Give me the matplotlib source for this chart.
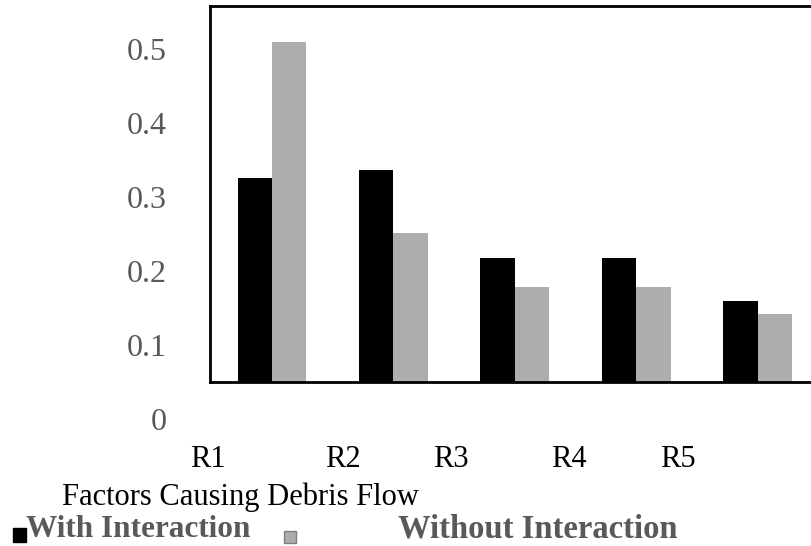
import numpy as np
import matplotlib.pyplot as plt
from matplotlib.patches import Rectangle

plt.rcParams['font.family'] = ['Liberation Serif', 'DejaVu Serif']

# data
factors = ['R1', 'R2', 'R3', 'R4', 'R5']
with_inter = [0.325, 0.337, 0.218, 0.218, 0.160]
without_inter = [0.510, 0.251, 0.179, 0.179, 0.142]
yticks = [0, 0.1, 0.2, 0.3, 0.4, 0.5]
baseline = 0.05

W, H = 811, 546
fig = plt.figure(figsize=(W / 100, H / 100), dpi=100)
ax = fig.add_axes([210 / W, 1 - 419 / H, (W - 210) / W, (419 - 6) / H])

x = np.arange(len(factors))
bw = 0.283
ax.bar(x - bw / 2, np.array(with_inter) - baseline, bw, bottom=baseline,
       color='black', label='With Interaction')
ax.bar(x + bw / 2, np.array(without_inter) - baseline, bw, bottom=baseline,
       color='#adadab', label='Without Interaction')

ax.set_xlim(-0.511, 4.44)
ax.set_ylim(0, 0.558)

for s in ['left', 'top', 'bottom']:
    ax.spines[s].set_linewidth(2.0)
ax.spines['right'].set_visible(False)
ax.spines['bottom'].set_position(('data', baseline))
ax.spines['left'].set_bounds(baseline, 0.558)

ax.set_xticks([])
ax.set_yticks(yticks)
ax.set_yticklabels(['0' if v == 0 else f'{v:g}' for v in yticks])
ax.tick_params(axis='y', length=0, pad=31, labelsize=23, labelcolor='#595959')

# category labels sit offset from the bars in the original
label_px = [208, 343, 451, 569, 678]
for name, px in zip(factors, label_px):
    fig.text(px / W, 1 - 467 / H, name, ha='center', va='baseline',
             fontsize=22, color='black')

fig.text(62 / W, 1 - 505 / H, 'Factors Causing Debris Flow', ha='left',
         va='baseline', fontsize=22, color='black')

# legend drawn by hand to keep the odd spacing
fig.patches.append(Rectangle((13 / W, 1 - 542 / H), 13 / W, 14 / H,
                             transform=fig.transFigure, color='black'))
fig.text(26 / W, 1 - 537 / H, 'With Interaction', ha='left', va='baseline',
         fontsize=22.5, fontweight='bold', color='#595959')
fig.patches.append(Rectangle((284 / W, 1 - 543 / H), 12 / W, 12 / H,
                             transform=fig.transFigure, facecolor='#adadab',
                             edgecolor='#7f7f7f', linewidth=1))
fig.text(398 / W, 1 - 537 / H, 'Without Interaction', ha='left', va='baseline',
         fontsize=23.5, fontweight='bold', color='#595959')

fig.savefig('out.png', dpi=100)
